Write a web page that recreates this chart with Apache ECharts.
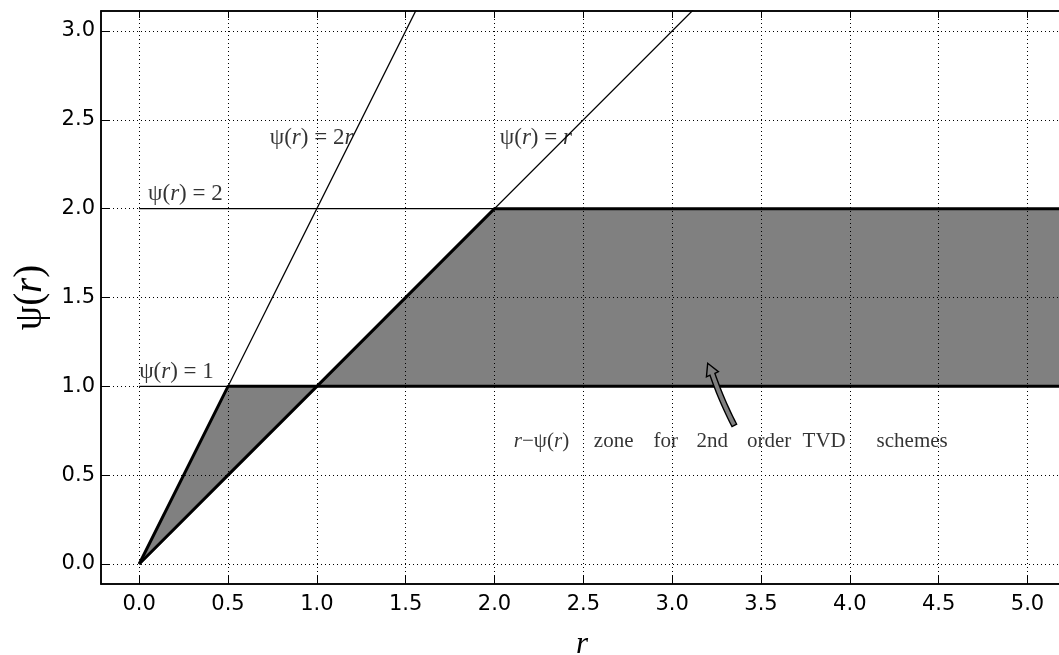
<!DOCTYPE html>
<html>
<head>
<meta charset="utf-8">
<script src="https://cdn.jsdelivr.net/npm/echarts@6/dist/echarts.min.js"></script>
<style>
html, body { margin: 0; padding: 0; background: #fff; }
#chart { width: 1059px; height: 655px; }
</style>
</head>
<body>
<div id="chart"></div>
<script>
// tick values
const xTicks = [0, 0.5, 1, 1.5, 2, 2.5, 3, 3.5, 4, 4.5, 5];
const yTicks = [0, 0.5, 1, 1.5, 2, 2.5, 3];

// corners of the TVD zone (lower = minmod, upper = superbee)
const rPts = [0, 0.5, 1, 2, 5.2];
const lowerB = [0, 0.5, 1, 1, 1];
const upperB = [0, 1, 1, 2, 2];

// thin reference lines
const lineR = [[0, 0], [3.2, 3.2]];
const line2R = [[0, 0], [1.6, 3.2]];
const lineOne = [[0, 1], [0.5, 1]];
const lineTwo = [[0, 2], [2, 2]];

// annotation arrow: tail r, tail psi, tip r, tip psi
const arrowPts = [[3.35, 0.78, 3.2, 1.13]];

const serif = 'Liberation Serif';
function mathRich(size) {
  return {
    n: { fontFamily: serif, fontSize: size, color: '#000' },
    i: { fontFamily: serif, fontStyle: 'italic', fontSize: size, color: '#000' }
  };
}

const chart = echarts.init(document.getElementById('chart'));

function pairs(xs, ys) {
  return xs.map((x, i) => [x, ys[i]]);
}

function thin(data) {
  return {
    type: 'line', data: data, symbol: 'none', silent: true, z: 3,
    lineStyle: { color: '#000', width: 1.3 }
  };
}

function thick(data) {
  return {
    type: 'line', data: data, symbol: 'none', silent: true, z: 4,
    lineStyle: { color: '#000', width: 3 }
  };
}

// curved "fancy" arrow polygon between two pixel points
function arrowPolygon(p0, p1) {
  const dx = p1[0] - p0[0], dy = p1[1] - p0[1];
  const len = Math.hypot(dx, dy);
  const ux = dx / len, uy = dy / len;
  const nx = -uy, ny = ux;
  const headLen = 12, headW = 6.5, shaftW = 2.6, bend = -2;
  const bx = p1[0] - ux * headLen, by = p1[1] - uy * headLen;
  const cx = (p0[0] + bx) / 2 + nx * bend, cy = (p0[1] + by) / 2 + ny * bend;
  const left = [], right = [];
  const steps = 12;
  for (let k = 0; k <= steps; k++) {
    const t = k / steps;
    const x = (1 - t) * (1 - t) * p0[0] + 2 * (1 - t) * t * cx + t * t * bx;
    const y = (1 - t) * (1 - t) * p0[1] + 2 * (1 - t) * t * cy + t * t * by;
    let tx = 2 * (1 - t) * (cx - p0[0]) + 2 * t * (bx - cx);
    let ty = 2 * (1 - t) * (cy - p0[1]) + 2 * t * (by - cy);
    const tl = Math.hypot(tx, ty);
    tx /= tl; ty /= tl;
    left.push([x - ty * shaftW, y + tx * shaftW]);
    right.push([x + ty * shaftW, y - tx * shaftW]);
  }
  const pts = left.slice();
  pts.push([bx - uy * headW, by + ux * headW]);
  pts.push(p1);
  pts.push([bx + uy * headW, by - ux * headW]);
  return pts.concat(right.reverse());
}

const tickFmt = v => v.toFixed(1);

const option = {
  animation: false,
  grid: {
    left: 101, top: 11, width: 962, height: 573,
    containLabel: false, outerBoundsMode: 'none',
    show: true, borderColor: '#000', borderWidth: 1.5
  },
  xAxis: [{
    type: 'value', min: -0.215, max: 5.2,
    name: 'r', nameLocation: 'middle', nameGap: 45,
    nameTextStyle: { fontFamily: serif, fontStyle: 'italic', fontSize: 31, color: '#000' },
    axisLine: { onZero: false, lineStyle: { color: '#000', width: 1.5 } },
    axisTick: { inside: true, length: 9, customValues: xTicks, lineStyle: { color: '#000', width: 1 } },
    axisLabel: { customValues: xTicks, formatter: tickFmt, margin: 10,
      fontFamily: 'DejaVu Sans', fontSize: 21, color: '#000' },
    splitLine: { show: false }
  }, {
    type: 'value', position: 'top', min: -0.215, max: 5.2,
    axisLine: { onZero: false, lineStyle: { color: '#000', width: 1.5 } },
    axisTick: { inside: true, length: 7, customValues: xTicks, lineStyle: { color: '#000', width: 1 } },
    axisLabel: { show: false },
    splitLine: { show: false }
  }],
  yAxis: {
    type: 'value', min: -0.1125, max: 3.1125,
    name: '{n|ψ(}{i|r}{n|)}', nameLocation: 'middle', nameGap: 50, nameRotate: 90,
    nameTextStyle: { rich: mathRich(39) },
    axisLine: { onZero: false, lineStyle: { color: '#000', width: 1.5 } },
    axisTick: { inside: true, length: 9, customValues: yTicks, lineStyle: { color: '#000', width: 1 } },
    axisLabel: { customValues: yTicks, formatter: tickFmt, margin: 6,
      fontFamily: 'DejaVu Sans', fontSize: 21, color: '#000' },
    splitLine: { show: false }
  },
  series: [
    {
      // TVD zone fill, also carries the dotted grid
      type: 'custom', clip: true, silent: true, z: 1,
      data: rPts.map((r, i) => [r, lowerB[i], upperB[i]]),
      encode: { x: 0, y: [1, 2] },
      renderItem: function (params, api) {
        const i = params.dataIndexInside;
        if (i >= params.dataInsideLength - 1) return null;
        const r0 = api.value(0, i), r1 = api.value(0, i + 1);
        const pts = [
          api.coord([r0, api.value(1, i)]),
          api.coord([r1, api.value(1, i + 1)]),
          api.coord([r1, api.value(2, i + 1)]),
          api.coord([r0, api.value(2, i)])
        ];
        return {
          type: 'polygon', shape: { points: pts },
          style: { fill: '#808080', stroke: '#808080', lineWidth: 0.6 }
        };
      },
      markLine: {
        silent: true, symbol: 'none', label: { show: false },
        lineStyle: { color: '#000', width: 1, type: [1, 3] },
        data: xTicks.map(v => ({ xAxis: v })).concat(yTicks.map(v => ({ yAxis: v })))
      }
    },
    thin(lineR),
    thin(line2R),
    thin(lineOne),
    thin(lineTwo),
    thick(pairs(rPts, lowerB)),
    thick(pairs(rPts, upperB)),
    {
      type: 'scatter', symbolSize: 0, silent: true, z: 6,
      label: { show: true, position: [0, 0], rich: mathRich(23) },
      data: [
        { value: [0.05, 2.02], label: { formatter: '{n|ψ(}{i|r}{n|) = 2}', align: 'left', verticalAlign: 'bottom' } },
        { value: [0.0, 1.015], label: { formatter: '{n|ψ(}{i|r}{n|) = 1}', align: 'left', verticalAlign: 'bottom' } },
        { value: [0.735, 2.4], label: { formatter: '{n|ψ(}{i|r}{n|) = 2}{i|r}', align: 'left', verticalAlign: 'middle' } },
        { value: [2.03, 2.4], label: { formatter: '{n|ψ(}{i|r}{n|) = }{i|r}', align: 'left', verticalAlign: 'middle' } },
        {
          value: [2.075, 0.69],
          label: {
            formatter: '{a|r}{n|−ψ(}{i|r}{p|)}{w1|zone}{w2|for}{w3|2nd}{w4|order}{w5|TVD}{w6|schemes}',
            align: 'left', verticalAlign: 'middle',
            rich: Object.assign(mathRich(21), {
              a: { fontFamily: serif, fontStyle: 'italic', fontSize: 21, color: '#000', padding: [0, 0, 0, 6] },
              p: { fontFamily: serif, fontSize: 21, color: '#000', padding: [0, 14, 0, 0] },
              w1: { fontFamily: serif, fontSize: 21, color: '#000', width: 61, align: 'center' },
              w2: { fontFamily: serif, fontSize: 21, color: '#000', width: 43, align: 'center' },
              w3: { fontFamily: serif, fontSize: 21, color: '#000', width: 50, align: 'center' },
              w4: { fontFamily: serif, fontSize: 21, color: '#000', width: 64, align: 'center' },
              w5: { fontFamily: serif, fontSize: 21, color: '#000', width: 46, align: 'center' },
              w6: { fontFamily: serif, fontSize: 21, color: '#000', width: 130, align: 'center' }
            })
          }
        }
      ]
    },
    {
      type: 'custom', silent: true, z: 8,
      data: arrowPts,
      renderItem: function (params, api) {
        const p0 = api.coord([api.value(0), api.value(1)]);
        const p1 = api.coord([api.value(2), api.value(3)]);
        return {
          type: 'polygon', shape: { points: arrowPolygon(p0, p1) },
          style: { fill: '#808080', stroke: '#000', lineWidth: 1.4, lineJoin: 'miter' }
        };
      }
    }
  ]
};

chart.setOption(option);
</script>
</body>
</html>
